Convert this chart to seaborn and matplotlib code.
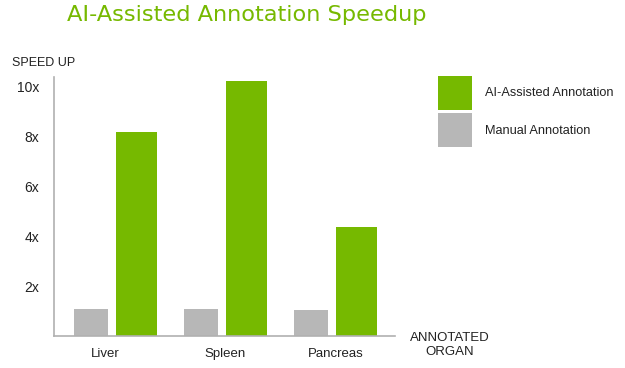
import matplotlib
matplotlib.use("Agg")
import matplotlib.pyplot as plt
import matplotlib.transforms as mtransforms
import seaborn as sns
import pandas as pd
from matplotlib.patches import Patch

organs = ["Liver", "Spleen", "Pancreas"]
ai_speedup = [8.2, 10.23, 4.37]
manual_speedup = [1.1, 1.1, 1.05]
series_names = ["Manual Annotation", "AI-Assisted Annotation"]
ytick_values = [2, 4, 6, 8, 10]
ytick_labels = ["2x", "4x", "6x", "8x", "10x"]

GREEN = "#76B900"
GRAY = "#B7B7B7"

df = pd.DataFrame({
    "organ": organs * 2,
    "speedup": manual_speedup + ai_speedup,
    "series": [series_names[0]] * 3 + [series_names[1]] * 3,
})

sns.set_theme(style="white")
plt.rcParams["font.family"] = ["Liberation Sans", "DejaVu Sans"]

W, H = 625, 368
fig = plt.figure(figsize=(W / 100, H / 100), dpi=100)
ax = fig.add_axes([54 / W, 1 - 336 / H, (395 - 54) / W, (336 - 77) / H])

sns.barplot(data=df, x="organ", y="speedup", hue="series", order=organs,
            hue_order=series_names, palette=[GRAY, GREEN], width=0.76,
            gap=0, linewidth=0, saturation=1, ax=ax, legend=False)

# gray bars are narrower than the green ones in the reference
for bar in ax.containers[0]:
    bar.set_width(0.31)
for bar in ax.containers[1]:
    bar.set_x(bar.get_x() + 0.005)
    bar.set_width(0.373)

ax.set_xlim(-0.558, 2.542)
ax.set_ylim(0, 10.4)
ax.set_yticks(ytick_values)
ax.set_yticklabels(ytick_labels, fontsize=10, color="#222222")
ax.tick_params(axis="y", length=0, pad=10.8)
ax.tick_params(axis="x", length=0, pad=8.5, labelsize=9.5, labelcolor="#222222")
ax.set_xlabel("")
ax.set_ylabel("")
# the "Liver" label sits a little left of its group in the reference
lbl = ax.get_xticklabels()[0]
lbl.set_transform(lbl.get_transform() + mtransforms.ScaledTranslation(-10 / 100, 0, fig.dpi_scale_trans))
for s in ["top", "right"]:
    ax.spines[s].set_visible(False)
for s in ["left", "bottom"]:
    ax.spines[s].set_color("#B0B0B0")
    ax.spines[s].set_linewidth(1.2)

fig.text(67 / W, 1 - 15 / H, "AI-Assisted Annotation Speedup", color="#76B900",
         fontsize=16.2, family=["DejaVu Sans"], va="center", ha="left")
fig.text(12 / W, 1 - 63 / H, "SPEED UP", fontsize=9, color="#222222",
         va="center", ha="left")
fig.text(450 / W, 1 - 345 / H, "ANNOTATED\nORGAN", fontsize=9.5, color="#222222",
         va="center", ha="center", linespacing=1.12)

handles = [Patch(facecolor=GREEN, edgecolor="none"), Patch(facecolor=GRAY, edgecolor="none")]
fig.legend(handles, [series_names[1], series_names[0]], loc="upper left",
           bbox_to_anchor=(438 / W, 1 - 76 / H), frameon=False, fontsize=9.2,
           handlelength=2.65, handleheight=3.7, handletextpad=1.0,
           labelspacing=0.25, borderpad=0, borderaxespad=0, labelcolor="#222222")

fig.savefig("out.png", dpi=100)
